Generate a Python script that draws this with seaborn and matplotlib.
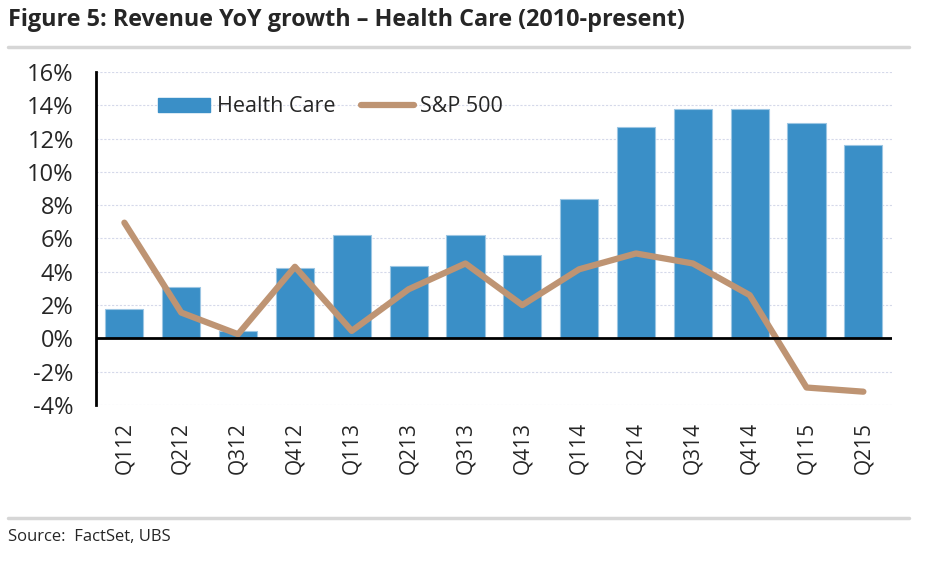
import numpy as np
import pandas as pd
import matplotlib
matplotlib.use("Agg")
import matplotlib.pyplot as plt
import seaborn as sns
from matplotlib.ticker import FuncFormatter, MultipleLocator
from matplotlib.lines import Line2D
from matplotlib.patches import Patch

quarters = ["Q112", "Q212", "Q312", "Q412", "Q113", "Q213", "Q313", "Q413",
            "Q114", "Q214", "Q314", "Q414", "Q115", "Q215"]
health_care = [1.75, 3.1, 0.45, 4.25, 6.2, 4.35, 6.2, 5.0, 8.35, 12.7, 13.8, 13.75, 12.95, 11.6]
sp500 = [6.95, 1.55, 0.25, 4.3, 0.45, 2.95, 4.5, 2.0, 4.15, 5.1, 4.5, 2.6, -2.95, -3.2]

bar_color = "#3A8FC7"
line_color = "#BE9473"

sns.set_theme(style="white")
plt.rcParams['font.family'] = ['Open Sans', 'DejaVu Sans']

df = pd.DataFrame({"quarter": quarters, "hc": health_care, "sp": sp500,
                   "pos": np.arange(len(quarters))})

fig = plt.figure(figsize=(9.28, 5.71), dpi=100)
ax = fig.add_axes([0.1034, 0.2907, 0.8576, 0.5833])

sns.barplot(data=df, x="quarter", y="hc", color=bar_color, saturation=1,
            width=0.67, ax=ax, edgecolor="#9CC6E3", linewidth=0.8, zorder=3)
sns.lineplot(data=df, x="pos", y="sp", color=line_color, linewidth=4.5,
             sort=False, ax=ax, zorder=4, solid_capstyle="round")

ax.set_xlim(-0.5, len(quarters) - 0.5)
ax.set_ylim(-4, 16)
ax.yaxis.set_major_locator(MultipleLocator(2))
ax.yaxis.set_major_formatter(FuncFormatter(lambda v, p: f"{v:.0f}%"))
ax.set_xticks(range(len(quarters)))
ax.set_xticklabels(quarters, rotation=90, fontsize=15)
ax.tick_params(axis="y", labelsize=17, length=0, pad=16)
ax.tick_params(axis="x", length=0, pad=12)
ax.set_xlabel("")
ax.set_ylabel("")

ax.grid(axis="y", color="#D5D9EA", linestyle=(0, (2, 1.5)), linewidth=0.8, zorder=0)
ax.set_axisbelow(True)
for s in ["top", "right", "bottom"]:
    ax.spines[s].set_visible(False)
ax.spines["left"].set_color("black")
ax.spines["left"].set_linewidth(2)
ax.axhline(0, color="black", linewidth=2, zorder=5)

handles = [Patch(facecolor=bar_color, edgecolor=bar_color),
           Line2D([0], [0], color=line_color, linewidth=4.5)]
ax.legend(handles, ["Health Care", "S&P 500"], ncol=2, frameon=False,
          loc="upper left", bbox_to_anchor=(0.053, 0.985), fontsize=15.5,
          handlelength=2.45, handleheight=0.6, handletextpad=0.3, columnspacing=1.2)

fig.text(0.009, 0.965, "Figure 5: Revenue YoY growth \u2013 Health Care (2010-present)",
         fontsize=16.8, fontweight="bold", ha="left", va="center")
fig.add_artist(Line2D([0.009, 0.98], [0.917, 0.917], color="#D6D6D6", linewidth=2.5,
                      transform=fig.transFigure))
fig.add_artist(Line2D([0.009, 0.98], [0.093, 0.093], color="#D6D6D6", linewidth=2.5,
                      transform=fig.transFigure))
fig.text(0.009, 0.059, "Source:  FactSet, UBS", fontsize=12, ha="left", va="center")

fig.savefig("out.png", dpi=100)
